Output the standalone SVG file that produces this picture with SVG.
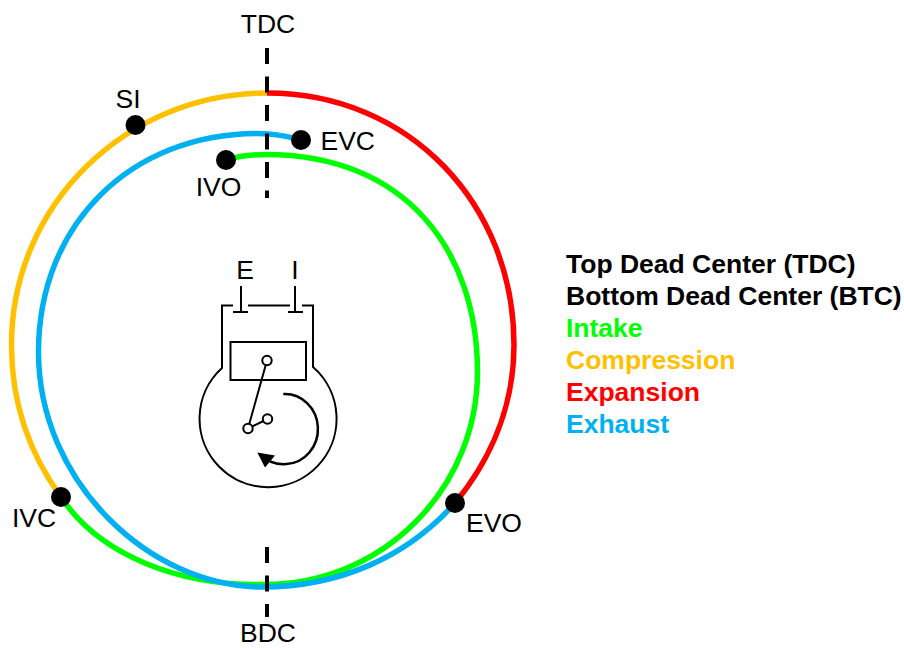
<svg xmlns="http://www.w3.org/2000/svg" width="904" height="648" viewBox="0 0 904 648">
<style>
text{font-family:"Liberation Sans",Arial,sans-serif;font-size:26.5px;fill:#000}
.m{text-anchor:middle}
.b{font-weight:bold}
.arc{fill:none;stroke-width:5.5}
.dash{fill:none;stroke:#000;stroke-width:4;stroke-dasharray:16 12.5}
.thin{fill:none;stroke:#000;stroke-width:2}
.pin{fill:#fff;stroke:#000;stroke-width:2}
</style>
<rect width="904" height="648" fill="#fff"/>
<g id="connectors">
<path id="expansion" class="arc" stroke="#ff0000" d="M267 93C410 93 514 205 514 345C514 404 492 458 455 503"/>
<path id="compression" class="arc" stroke="#ffc000" d="M61 497C29 453 11.500 401 11.500 345C11.500 205 126 93 267 93"/>
<path id="intake" class="arc" stroke="#00ff00" d="M226 160C238 156 252 154.500 266 154.500C405 154.500 477.500 250 477.500 372A212.500 212.500 0 0 1 265 584.500C180 586 100 556 61 497"/>
<path id="exhaust" class="arc" stroke="#00b0f0" d="M455 503C406 558 338 587 262 587C150 587 38.500 482 38.500 352C38.500 225 130 133.500 258 133.500C273 133.500 287 136 301 140"/>
<path id="tdc-line" class="dash" d="M267 48V198"/>
<path id="bdc-line" class="dash" d="M267 547V617"/>
</g>
<g id="SI"><circle cx="135.500" cy="125" r="10"/><text class="m" x="128" y="107.500">SI</text></g>
<g id="EVC"><circle cx="301" cy="140" r="10"/><text x="320.500" y="149.500">EVC</text></g>
<g id="IVO"><circle cx="226" cy="160" r="10"/><text class="m" x="218.500" y="196">IVO</text></g>
<g id="IVC"><circle cx="61" cy="497" r="10"/><text x="12" y="527">IVC</text></g>
<g id="EVO"><circle cx="455" cy="503" r="10"/><text x="466" y="532">EVO</text></g>
<g id="TDC"><text class="m" x="268" y="33">TDC</text></g>
<g id="BDC"><text class="m" x="268" y="642">BDC</text></g>
<g id="engine">
<path class="thin" d="M233 305.500H222V368A68.500 68.500 0 1 0 313 367V305.500H302M248 305.500H290"/>
<rect class="thin" x="230.500" y="342" width="75.500" height="38"/>
<path class="thin" d="M241 286V312M233 312H248M295 286V312M288 312H303"/>
<path class="thin" d="M267 360.500L248 428.500M248 428.500L267.500 419"/>
<path d="M283.300 394A33 35 0 0 1 286.500 464C281 464.500 275 463.500 270 461.500" fill="none" stroke="#000" stroke-width="2.500"/>
<polygon points="257.300,452.500 275,455.500 265,467.500"/>
<circle class="pin" cx="267" cy="360.500" r="4.700"/>
<circle class="pin" cx="248" cy="428.500" r="4.700"/>
<circle class="pin" cx="267.500" cy="419" r="4.700"/>
<text class="m" x="245" y="279">E</text>
<text class="m" x="295" y="279">I</text>
</g>
<g id="legend">
<text class="b" x="566" y="273">Top Dead Center (TDC)</text>
<text class="b" x="566" y="305">Bottom Dead Center (BTC)</text>
<text class="b" x="566" y="337" style="fill:#00ff00">Intake</text>
<text class="b" x="566" y="369" style="fill:#ffc000">Compression</text>
<text class="b" x="566" y="401" style="fill:#ff0000">Expansion</text>
<text class="b" x="566" y="433" style="fill:#00b0f0">Exhaust</text>
</g>
</svg>
